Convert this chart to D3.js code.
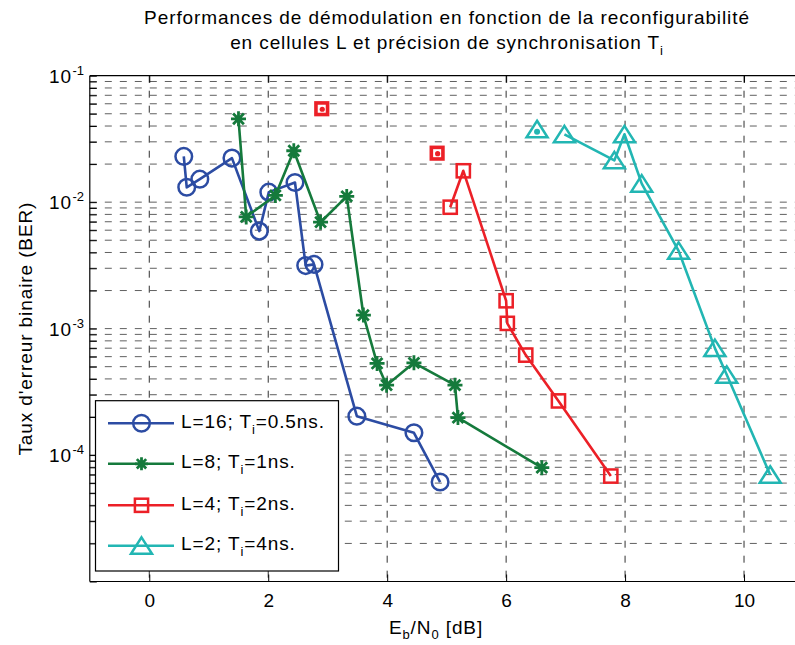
<!DOCTYPE html>
<html>
<head>
<meta charset="utf-8">
<script src="https://cdn.jsdelivr.net/npm/d3@7"></script>
<style>
  html, body { margin: 0; padding: 0; background: #fff; }
  svg { display: block; }
  text { font-family: "Liberation Sans", Arial, Helvetica, sans-serif; fill: #000; }
</style>
</head>
<body>
<svg id="chart" width="795" height="645"></svg>
<script>
// ---------------- DATA ----------------
const xTicks = [0, 2, 4, 6, 8, 10];
const yDecades = [-4, -3, -2, -1];
const yTickLabels = ["-4", "-3", "-2", "-1"];

const blueX = [0.58, 0.63, 0.85, 1.39, 1.85, 2.01, 2.45, 2.63, 2.77, 3.49, 4.45, 4.89];
const blueY = [0.0230, 0.0131, 0.0152, 0.0223, 0.0059, 0.0120, 0.0143, 0.00315, 0.00322, 0.000203, 0.000150, 0.0000612];

const greenX = [1.50, 1.63, 2.12, 2.43, 2.88, 3.32, 3.60, 3.83, 3.99, 4.45, 5.14, 5.19, 6.60];
const greenY = [0.0456, 0.00764, 0.0113, 0.0255, 0.00694, 0.0111, 0.00128, 0.000530, 0.000357, 0.000536, 0.000357, 0.000198, 0.0000795];

const redX = [5.06, 5.28, 6.00, 6.02, 6.33, 6.88, 7.76];
const redY = [0.00912, 0.0177, 0.00166, 0.00110, 0.000617, 0.000268, 0.0000682];
const redIsoX = [2.90, 4.84];
const redIsoY = [0.0548, 0.0244];

const cyanX = [6.98, 7.82, 7.99, 8.28, 8.90, 9.51, 9.71, 10.44];
const cyanY = [0.0344, 0.0214, 0.0344, 0.0140, 0.00412, 0.000701, 0.000431, 0.0000698];
const cyanIsoX = [6.52];
const cyanIsoY = [0.0377];

const seriesNames = ["L=16; T", "L=8; T", "L=4; T", "L=2; T"];
const seriesSuffix = ["=0.5ns.", "=1ns.", "=2ns.", "=4ns."];

// ---------------- LAYOUT ----------------
const svg = d3.select("#chart");
const L = 89.8, R = 803.5, T = 75.7, B = 581.5;
const x = d3.scaleLinear().domain([-1, 11]).range([L, R]);
const y = d3.scaleLog().domain([1e-5, 1e-1]).range([B, T]);

const FS = 19, LS = "0.9px", SUB = 13;
const COLORS = { blue: "#2c4ca3", green: "#157a3c", red: "#ec2027", cyan: "#22b6b3" };

// grid
const grid = svg.append("g");
const yMinor = [];
[-5, -4, -3, -2].forEach(e => { for (let k = 1; k <= 9; k++) yMinor.push(k * Math.pow(10, e)); });
yMinor.push(1e-1);
grid.selectAll("line.hg").data(yMinor.filter(v => v > 1e-5 && v < 1e-1)).enter().append("line")
  .attr("x1", L).attr("x2", R).attr("y1", d => y(d)).attr("y2", d => y(d))
  .attr("stroke", "#606060").attr("stroke-width", 1).attr("stroke-dasharray", "7,8");
grid.selectAll("line.vg").data(xTicks).enter().append("line")
  .attr("x1", d => x(d)).attr("x2", d => x(d)).attr("y1", T).attr("y2", B)
  .attr("stroke", "#303030").attr("stroke-width", 1).attr("stroke-dasharray", "7,8");

// axes
const axB = svg.append("g").attr("transform", `translate(0,${B})`)
  .call(d3.axisBottom(x).tickValues(xTicks).tickSize(-7).tickPadding(12).tickFormat(d3.format("d")));
const axT = svg.append("g").attr("transform", `translate(0,${T})`)
  .call(d3.axisTop(x).tickValues(xTicks).tickSize(-7).tickFormat(""));
const axL = svg.append("g").attr("transform", `translate(${L},0)`)
  .call(d3.axisLeft(y).tickValues(yMinor).tickSize(-7).tickFormat(""));
[axB, axT, axL].forEach(g => {
  g.selectAll("path.domain").attr("stroke", "#000").attr("stroke-width", 1.2);
  g.selectAll(".tick line").attr("stroke", "#000").attr("stroke-width", 1);
});
axB.selectAll("path.domain").attr("d", `M${L},0H${R}`);
axT.selectAll("path.domain").attr("d", `M${L},0H${R}`);
axL.selectAll("path.domain").attr("d", `M0,${B}V${T}`);
axB.selectAll(".tick text").attr("font-size", FS).attr("font-family", "Liberation Sans, Arial, sans-serif")
  .attr("fill", "#000");

// y tick labels 10^e
const yl = svg.append("g");
yDecades.forEach((e, i) => {
  yl.append("text").attr("x", 72).attr("y", y(Math.pow(10, e)) + 7)
    .attr("font-size", FS).attr("letter-spacing", LS).attr("text-anchor", "end").text("10");
  yl.append("text").attr("x", 72.5).attr("y", y(Math.pow(10, e)) - 1)
    .attr("font-size", SUB).attr("text-anchor", "start").text(yTickLabels[i]);
});

// title
svg.append("text").attr("x", 447).attr("y", 24).attr("font-size", FS).attr("letter-spacing", LS)
  .attr("text-anchor", "middle")
  .text("Performances de démodulation en fonction de la reconfigurabilité");
const t2 = svg.append("text").attr("x", 447).attr("y", 49).attr("font-size", FS).attr("letter-spacing", LS)
  .attr("text-anchor", "middle");
t2.append("tspan").text("en cellules L et précision de synchronisation T");
t2.append("tspan").attr("font-size", SUB).attr("dy", 6).text("i");

// axis labels
const xl = svg.append("text").attr("x", 436).attr("y", 634).attr("font-size", FS).attr("letter-spacing", LS)
  .attr("text-anchor", "middle");
xl.append("tspan").text("E");
xl.append("tspan").attr("font-size", SUB).attr("dy", 5).text("b");
xl.append("tspan").attr("dy", -5).text("/N");
xl.append("tspan").attr("font-size", SUB).attr("dy", 5).text("0");
xl.append("tspan").attr("dy", -5).text(" [dB]");

svg.append("text").attr("transform", `translate(32,${(T + B) / 2}) rotate(-90)`)
  .attr("font-size", FS).attr("letter-spacing", LS).attr("text-anchor", "middle")
  .text("Taux d'erreur binaire (BER)");

// ---------------- MARKERS ----------------
function drawCircle(g, cx, cy, color) {
  g.append("circle").attr("cx", cx).attr("cy", cy).attr("r", 8.3)
    .attr("fill", "none").attr("stroke", color).attr("stroke-width", 2.5);
}
function drawStar(g, cx, cy, color, s = 7.5) {
  const d = s * 0.72;
  const p = `M${cx - s},${cy}H${cx + s}M${cx},${cy - s}V${cy + s}` +
    `M${cx - d},${cy - d}L${cx + d},${cy + d}M${cx - d},${cy + d}L${cx + d},${cy - d}`;
  g.append("path").attr("d", p).attr("stroke", color).attr("stroke-width", 2.8).attr("fill", "none");
}
function drawSquare(g, cx, cy, color, s = 6.6) {
  g.append("rect").attr("x", cx - s).attr("y", cy - s).attr("width", 2 * s).attr("height", 2 * s)
    .attr("fill", "none").attr("stroke", color).attr("stroke-width", 2.5);
}
function drawTri(g, cx, cy, color) {
  const p = `M${cx},${cy - 8.5}L${cx + 10.5},${cy + 8}L${cx - 10.5},${cy + 8}Z`;
  g.append("path").attr("d", p).attr("fill", "none").attr("stroke", color)
    .attr("stroke-width", 2.5).attr("stroke-linejoin", "miter");
}

const line = d3.line().x(d => x(d[0])).y(d => y(d[1]));
function series(xs, ys, color, marker) {
  const pts = xs.map((v, i) => [v, ys[i]]);
  const g = svg.append("g");
  g.append("path").attr("d", line(pts)).attr("fill", "none").attr("stroke", color)
    .attr("stroke-width", 2.6).attr("stroke-linejoin", "round");
  pts.forEach(p => marker(g, x(p[0]), y(p[1]), color));
}
series(blueX, blueY, COLORS.blue, drawCircle);
series(greenX, greenY, COLORS.green, drawStar);
series(redX, redY, COLORS.red, drawSquare);
series(cyanX, cyanY, COLORS.cyan, drawTri);

// isolated points
const iso = svg.append("g");
redIsoX.forEach((v, i) => {
  const cx = x(v), cy = y(redIsoY[i]);
  iso.append("rect").attr("x", cx - 5.8).attr("y", cy - 5.8).attr("width", 11.6).attr("height", 11.6)
    .attr("fill", "#fff").attr("stroke", COLORS.red).attr("stroke-width", 3.6);
  iso.append("circle").attr("cx", cx + 0.5).attr("cy", cy + 0.5).attr("r", 2.6).attr("fill", COLORS.red);
});
cyanIsoX.forEach((v, i) => {
  const cx = x(v), cy = y(cyanIsoY[i]);
  drawTri(iso, cx, cy, COLORS.cyan);
  iso.append("circle").attr("cx", cx).attr("cy", cy + 2.5).attr("r", 3).attr("fill", COLORS.cyan);
});

// ---------------- LEGEND ----------------
const lg = svg.append("g");
lg.append("rect").attr("x", 95.5).attr("y", 400.7).attr("width", 243).attr("height", 170.3)
  .attr("fill", "#fff").attr("stroke", "#000").attr("stroke-width", 1.2);
const rowsY = [423.3, 463.8, 505.3, 545.8];
const legColors = [COLORS.blue, COLORS.green, COLORS.red, COLORS.cyan];
const legMarkers = [drawCircle, (g, a, b, c) => drawStar(g, a, b, c, 6.5), drawSquare, drawTri];
rowsY.forEach((ry, i) => {
  lg.append("line").attr("x1", 108).attr("x2", 174).attr("y1", ry).attr("y2", ry)
    .attr("stroke", legColors[i]).attr("stroke-width", 2.6);
  legMarkers[i](lg, 141.5, ry, legColors[i]);
  const t = lg.append("text").attr("x", 181).attr("y", ry + 4.5).attr("font-size", FS).attr("letter-spacing", LS);
  t.append("tspan").text(seriesNames[i]);
  t.append("tspan").attr("font-size", SUB).attr("dy", 6).text("i");
  t.append("tspan").attr("dy", -6).text(seriesSuffix[i]);
});
</script>
</body>
</html>
